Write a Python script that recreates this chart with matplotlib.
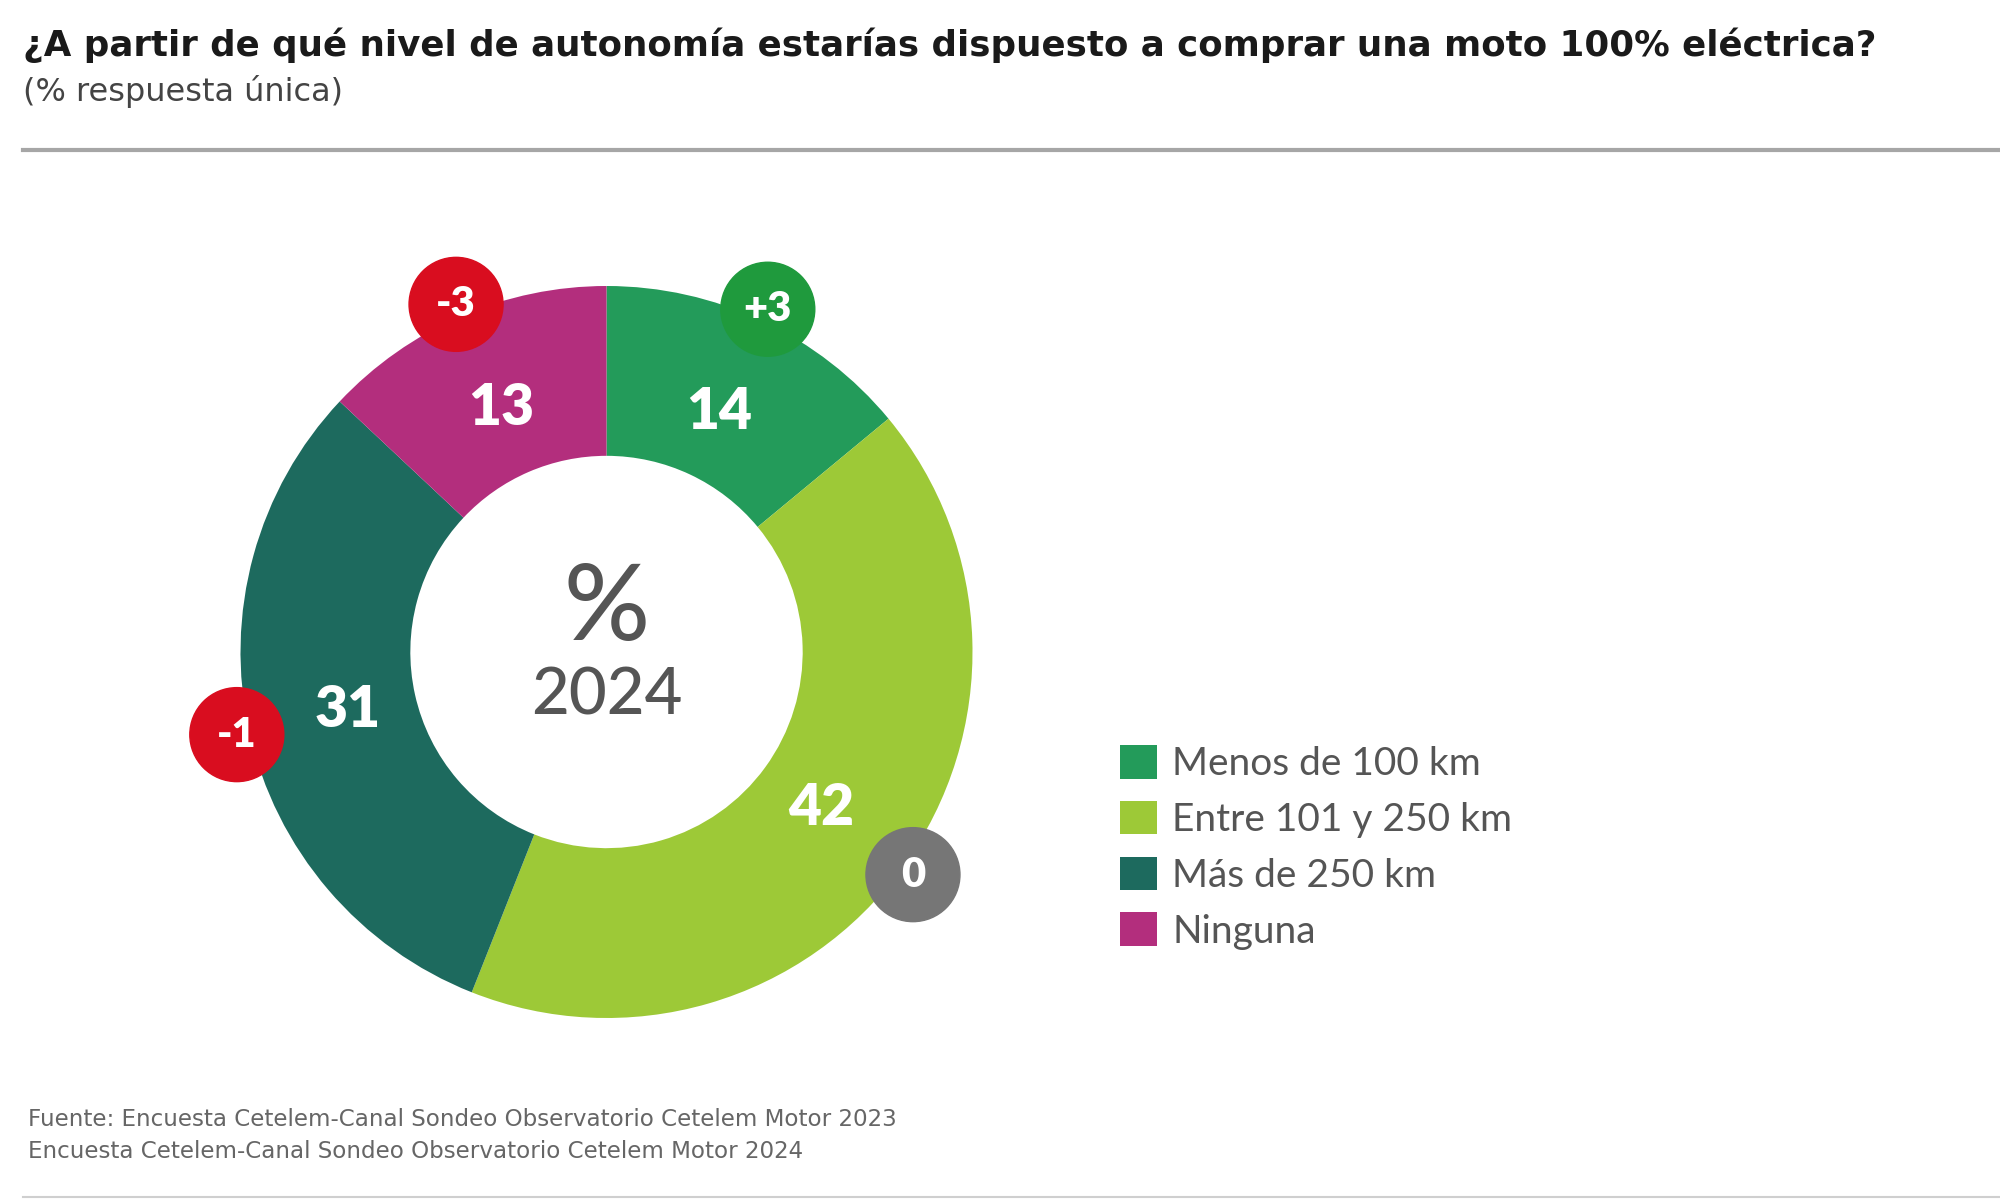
import matplotlib
matplotlib.use("Agg")
import matplotlib.pyplot as plt
from matplotlib.patches import Circle
from matplotlib import font_manager
import numpy as np

# datos
categorias = ['Menos de 100 km', 'Entre 101 y 250 km', 'Más de 250 km', 'Ninguna']
valores = [14, 42, 31, 13]
variaciones = ['+3', '0', '-1', '-3']
colores = ['#239b5a', '#9dc937', '#1d6a5e', '#b32e7d']
colores_var = ['#1f9a3d', '#767676', '#d90d1f', '#d90d1f']

titulo = '¿A partir de qué nivel de autonomía estarías dispuesto a comprar una moto 100% eléctrica?'
subtitulo = '(% respuesta única)'
fuente = ['Fuente: Encuesta Cetelem-Canal Sondeo Observatorio Cetelem Motor 2023',
          'Encuesta Cetelem-Canal Sondeo Observatorio Cetelem Motor 2024']

disponibles = {f.name for f in font_manager.fontManager.ttflist}
narrow = 'Liberation Sans Narrow' if 'Liberation Sans Narrow' in disponibles else 'DejaVu Sans'
suave = 'Lato' if 'Lato' in disponibles else 'DejaVu Sans'

fig = plt.figure(figsize=(20, 12), dpi=100)
W, H = 2000, 1200


def ajustar(t, ancho):
    # reduce el tamaño hasta ocupar el ancho deseado (px)
    r = fig.canvas.get_renderer()
    w = t.get_window_extent(renderer=r).width
    t.set_fontsize(t.get_fontsize() * ancho / w)


t1 = fig.text(23 / W, 1 - 45 / H, titulo, family=narrow, weight='bold',
              fontsize=32, color='#1a1a1a', va='center')
t2 = fig.text(23 / W, 1 - 92 / H, subtitulo, family=narrow, fontsize=24,
              color='#444444', va='center')
ajustar(t1, 1858)
ajustar(t2, 321)

fig.add_artist(plt.Line2D([23 / W, 1], [1 - 150 / H] * 2, color='#a6a6a6', lw=3))
fig.add_artist(plt.Line2D([23 / W, 1], [1 - 1197 / H] * 2, color='#cfcfcf', lw=1.5))

f1 = fig.text(28 / W, 1 - 1120 / H, fuente[0], family=narrow, fontsize=18,
              color='#666666', va='center')
f2 = fig.text(28 / W, 1 - 1152 / H, fuente[1], family=narrow, fontsize=18,
              color='#666666', va='center')
ajustar(f1, 869)
ajustar(f2, 778)

# donut
R = 366
cx, cy = 606.5, 652
lado = 900
ax = fig.add_axes([(cx - lado / 2) / W, (H - cy - lado / 2) / H, lado / W, lado / H])

interior = 0.536
wedges, _ = ax.pie(valores, colors=colores, startangle=90, counterclock=False,
                   radius=1, wedgeprops=dict(width=1 - interior, edgecolor='none'))
L = lado / (2 * R)
ax.set_xlim(-L, L)
ax.set_ylim(-L, L)
ax.set_aspect('equal')
ax.axis('off')

acum = np.cumsum(valores) - np.array(valores) / 2
angulos = np.deg2rad(90 - 360 * acum / sum(valores))
for v, var, cv, a in zip(valores, variaciones, colores_var, angulos):
    ax.text(0.725 * np.cos(a), 0.725 * np.sin(a), str(v), family=suave,
            weight='heavy', fontsize=41, color='white', ha='center', va='center')
    bx, by = 1.035 * np.cos(a), 1.035 * np.sin(a)
    ax.add_patch(Circle((bx, by), 47 / R, color=cv, zorder=3))
    ax.text(bx, by, var, family=suave, weight='heavy', fontsize=30,
            color='white', ha='center', va='center', zorder=4)

ax.text(0, 0.115, '%', family=suave, weight='medium', fontsize=77,
        color='#555555', ha='center', va='center')
ax.text(0, -0.12, '2024', family=suave, weight='medium', fontsize=47,
        color='#555555', ha='center', va='center')

leg = fig.legend(wedges, categorias, loc='upper left',
                 bbox_to_anchor=(1085 / W, 1 - 710 / H), frameon=False,
                 prop=dict(family=suave, size=28), labelcolor='#555555',
                 handlelength=0.95, handleheight=0.95, handletextpad=0.4,
                 labelspacing=0.48)

fig.savefig('out.png', dpi=100, facecolor='white')
